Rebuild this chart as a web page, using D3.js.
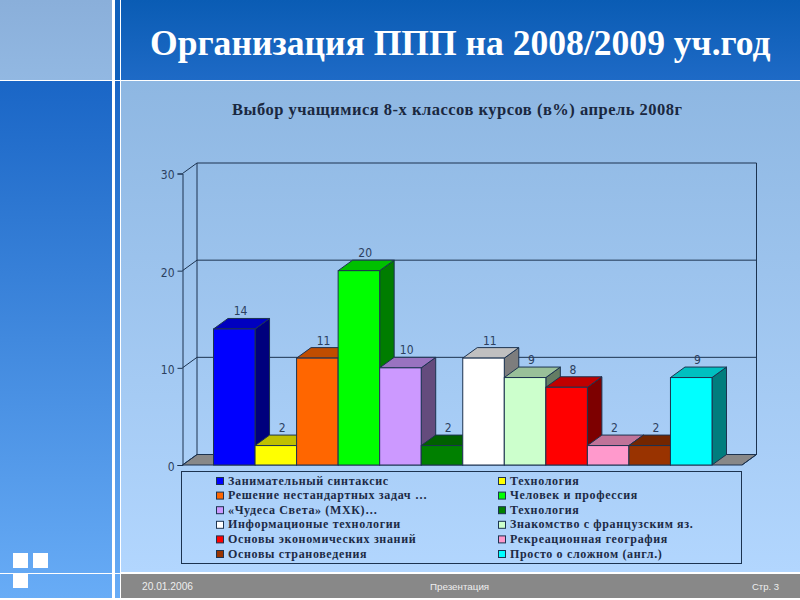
<!DOCTYPE html>
<html>
<head>
<meta charset="utf-8">
<script src="https://cdn.jsdelivr.net/npm/d3@7"></script>
<style>
    html, body { margin: 0; padding: 0; background: #fff; overflow: hidden; }
    svg { display: block; }
    .legend-text { font: bold 12px "Liberation Serif", serif; fill: #1c2a45; letter-spacing: 0.65px; }
    .axis text, .bar-label { font-family: "DejaVu Sans", sans-serif; font-stretch: condensed; font-size: 12px; fill: #2c4060; }
</style>
</head>
<body>
<svg width="800" height="600"></svg>
<script>
// data
const categories = [
    "Занимательный синтаксис",
    "Технология",
    "Решение нестандартных задач …",
    "Человек и профессия",
    "«Чудеса Света» (МХК)…",
    "Технология ",
    "Информационые технологии",
    "Знакомство с французским яз.",
    "Основы экономических знаний",
    "Рекреационная география",
    "Основы страноведения",
    "Просто о сложном (англ.)"
];
const values = [14, 2, 11, 20, 10, 2, 11, 9, 8, 2, 2, 9];
const colors = ["#0000ff", "#ffff00", "#ff6600", "#00ff00", "#cc99ff", "#008000",
    "#ffffff", "#ccffcc", "#ff0000", "#ff99cc", "#993300", "#00ffff"];
const yTicks = [0, 10, 20, 30];

const svg = d3.select("svg");
const lineColor = "#1c3350";

// slide background
const defs = svg.append("defs");
function gradient(id, from, to) {
    const g = defs.append("linearGradient").attr("id", id)
        .attr("x1", 0).attr("y1", 0).attr("x2", 0).attr("y2", 1);
    g.append("stop").attr("offset", 0).attr("stop-color", from);
    g.append("stop").attr("offset", 1).attr("stop-color", to);
}
gradient("gHeader", "#0a5cb4", "#1e6ac6");
gradient("gCorner", "#8aafda", "#92b8e2");
gradient("gLeft", "#1a66c6", "#68acf6");
gradient("gMain", "#8eb7e2", "#b2d6fe");

function panel(x, y, w, h, fill) {
    svg.append("rect").attr("x", x).attr("y", y).attr("width", w).attr("height", h).attr("fill", fill);
}
panel(0, 0, 800, 600, "#ffffff");
panel(0, 0, 112, 80, "url(#gCorner)");
panel(0, 81, 112, 517, "url(#gLeft)");
panel(115, 0, 5, 80, "#0f60bc");
panel(115, 81, 5, 517, "url(#gLeft)");
panel(121, 0, 679, 80, "url(#gHeader)");
panel(121, 81, 679, 491, "url(#gMain)");
panel(121, 574, 679, 24, "#888888");
panel(13, 553, 15, 15, "#ffffff");
panel(33, 553, 15, 15, "#ffffff");
panel(13, 573, 15, 15, "#ffffff");
panel(0, 573, 112, 1, "#ffffff");
panel(115, 573, 5, 1, "#ffffff");

// titles
svg.append("text").attr("x", 150).attr("y", 55)
    .attr("font-family", "Liberation Serif, serif").attr("font-weight", "bold")
    .attr("font-size", 35.6).attr("fill", "#fff")
    .text("Организация ППП на 2008/2009 уч.год");
svg.append("text").attr("x", 232).attr("y", 115)
    .attr("font-family", "Liberation Serif, serif").attr("font-weight", "bold")
    .attr("font-size", 16.5).attr("letter-spacing", 0.5).attr("fill", "#1a2840")
    .text("Выбор учащимися 8-х классов курсов (в%) апрель 2008г");

// footer
function footer(x, txt, size) {
    svg.append("text").attr("x", x).attr("y", 590)
        .attr("font-family", "Liberation Sans, sans-serif").attr("font-size", size)
        .attr("fill", "#eeeeee").text(txt);
}
footer(142, "20.01.2006", 10.2);
footer(430, "Презентация", 9.8);
footer(752, "Стр. 3", 9.5);

// scales
const x = d3.scaleBand().domain(categories).range([213.5, 712]);
const y = d3.scaleLinear().domain([0, 30]).range([465, 173.5]);
const depthX = 14.5, depthY = 10.5;
const left = 182.5, right = 742;

// floor
svg.append("polygon")
    .attr("points", [[left, y(0)], [right, y(0)], [right + depthX, y(0) - depthY], [left + depthX, y(0) - depthY]].join(" "))
    .attr("fill", "#888888").attr("stroke", lineColor);

// walls and grid
const grid = svg.append("g").attr("fill", "none").attr("stroke", lineColor);
grid.selectAll(".grid")
    .data(yTicks)
    .join("path")
    .attr("d", d => `M${left},${y(d)}L${left + depthX},${y(d) - depthY}L${right + depthX},${y(d) - depthY}`);
grid.append("path")
    .attr("d", `M${left + depthX},${y(30) - depthY}V${y(0) - depthY}M${right + depthX},${y(30) - depthY}V${y(0) - depthY}L${right},${y(0)}`);

// y axis
const axis = svg.append("g").attr("class", "axis")
    .attr("transform", `translate(${left},0)`)
    .call(d3.axisLeft(y).tickValues(yTicks).tickSize(5).tickPadding(3));
axis.selectAll("path, line").attr("stroke", lineColor);
axis.selectAll("text").attr("dy", "0.45em");

// bars, left to right so each one covers the side of the previous one
const bars = svg.selectAll(".bar")
    .data(categories.map((c, i) => ({ c, v: values[i], color: colors[i] })))
    .join("g").attr("class", "bar")
    .attr("stroke", lineColor).attr("stroke-width", 1);

bars.append("polygon") // side
    .attr("points", d => {
        const r = x(d.c) + x.bandwidth();
        return [[r, y(d.v)], [r + depthX, y(d.v) - depthY], [r + depthX, y(0) - depthY], [r, y(0)]].join(" ");
    })
    .attr("fill", d => d3.color(d.color).darker(2));
bars.append("polygon") // top
    .attr("points", d => {
        const l = x(d.c), r = l + x.bandwidth();
        return [[l, y(d.v)], [l + depthX, y(d.v) - depthY], [r + depthX, y(d.v) - depthY], [r, y(d.v)]].join(" ");
    })
    .attr("fill", d => d3.color(d.color).darker(0.8));
bars.append("rect") // front
    .attr("x", d => x(d.c))
    .attr("y", d => y(d.v))
    .attr("width", x.bandwidth())
    .attr("height", d => y(0) - y(d.v))
    .attr("fill", d => d.color);

// value labels
svg.selectAll(".bar-label")
    .data(categories)
    .join("text").attr("class", "bar-label")
    .attr("text-anchor", "middle")
    .attr("x", d => x(d) + x.bandwidth() / 2 + depthX / 2 - 1)
    .attr("y", (d, i) => y(values[i]) - depthY - 3)
    .text((d, i) => values[i]);

// legend
svg.append("rect").attr("x", 181.5).attr("y", 471.5).attr("width", 560).attr("height", 92)
    .attr("fill", "none").attr("stroke", lineColor);
const legendRow = d3.scalePoint().domain(d3.range(6)).range([481, 554]);
const legendCol = d3.scaleOrdinal().domain([0, 1]).range([216, 498]);
const legend = svg.selectAll(".legend-item")
    .data(categories)
    .join("g").attr("class", "legend-item")
    .attr("transform", (d, i) => `translate(${legendCol(i % 2)},${legendRow(Math.floor(i / 2))})`);
legend.append("rect")
    .attr("x", 0.5).attr("y", -3.5).attr("width", 7).attr("height", 7)
    .attr("fill", (d, i) => colors[i]).attr("stroke", lineColor);
legend.append("text").attr("class", "legend-text")
    .attr("x", 12).attr("y", 3.5)
    .text(d => d);
</script>
</body>
</html>
